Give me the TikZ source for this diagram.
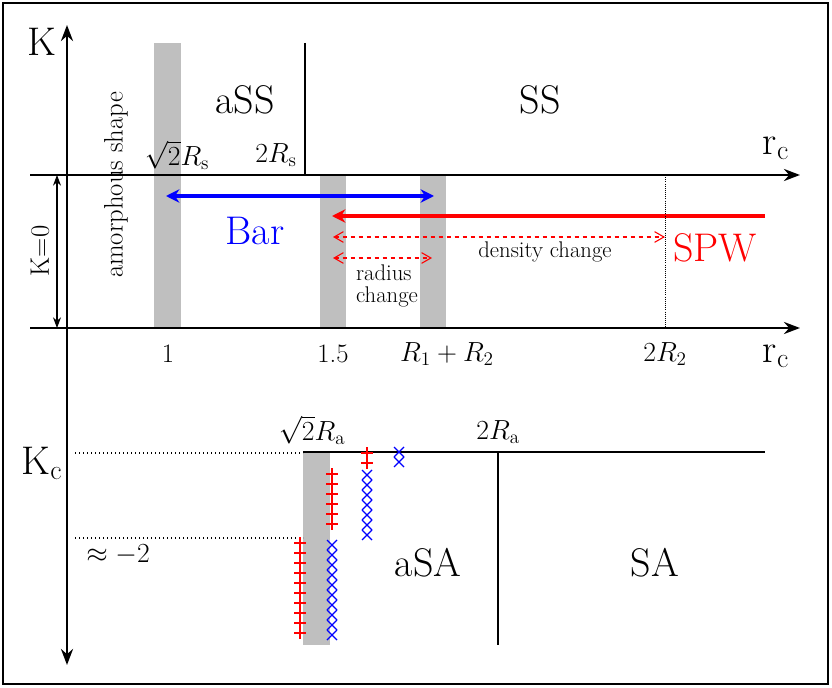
\documentclass[tikz,border=0pt]{standalone}
\usetikzlibrary{arrows.meta, positioning}
\begin{document}
\begin{tikzpicture}[x=0.75pt,y=-0.75pt,
    axis/.style={line width=2.2pt, -{Stealth[length=12pt,width=9pt]}},
    band/.style={fill=black!25, draw=none},
    big/.style={font=\fontsize{30}{32}\selectfont},
    lab/.style={font=\fontsize{20}{22}\selectfont},
    small/.style={font=\fontsize{17}{16}\selectfont, align=left},
    pm/.style={red, line width=0.9pt},
    xm/.style={blue, line width=0.9pt}]
  \draw[line width=0.8pt] (3,3) rectangle (828,684);
  \useasboundingbox (0,0) rectangle (832,688);
  % grey regions
  \fill[band] (154,43) rectangle (181,328);
  \fill[band] (320,175) rectangle (346,328);
  \fill[band] (420,175) rectangle (446,328);
  \fill[band] (303,452) rectangle (330,645);
  % axes
  \coordinate (top) at (67,25);
  \coordinate (bot) at (67,665);
  \draw[axis, {Stealth[length=12pt,width=9pt]}-{Stealth[length=12pt,width=9pt]}] (top) -- (bot);
  \coordinate (a1) at (30,175);
  \coordinate (a1e) at (800,175);
  \coordinate (a2) at (30,328);
  \coordinate (a2e) at (800,328);
  \draw[axis] (a1) -- (a1e);
  \draw[axis] (a2) -- (a2e);
  \node[big] (K) at (42,42) {K};
  \node[big] (rc1) at (776,148) {r$_\mathrm{c}$};
  \node[big] (rc2) at (776,356) {r$_\mathrm{c}$};
  \draw[{Stealth[length=8pt]}-{Stealth[length=8pt]}, line width=0.8pt] (57,175) -- (57,328);
  \node[lab, rotate=90] (k0) at (40,251) {K=0};
  % upper region
  \draw[line width=1pt] (305,43) -- (305,175);
  \node[big] (aSS) at (245,100) {aSS};
  \node[big] (SS) at (540,100) {SS};
  \node[lab] (rs1) at (177,155) {$\sqrt{2}R_\mathrm{s}$};
  \node[lab] (rs2) at (276,155) {$2R_\mathrm{s}$};
  \node[lab, rotate=90] (amo) at (116,185) {amorphous shape};
  \coordinate (b1) at (166,196);
  \coordinate (b2) at (434,196);
  \draw[blue, line width=2.5pt, {Stealth[length=10pt,width=10pt]}-{Stealth[length=10pt,width=10pt]}] (b1) -- (b2);
  \node[big, blue] (bar) at (255,231) {Bar};
  \coordinate (s1) at (765,216);
  \coordinate (s2) at (332,216);
  \draw[red, line width=2.5pt, -{Stealth[length=10pt,width=10pt]}] (s1) -- (s2);
  \node[big, red] (spw) at (715,248) {SPW};
  \draw[red, dashed, line width=0.8pt, {Straight Barb[length=7pt,width=8pt]}-{Straight Barb[length=7pt,width=8pt]}] (333,237) -- (665,237);
  \draw[red, dashed, line width=0.8pt, {Straight Barb[length=7pt,width=8pt]}-{Straight Barb[length=7pt,width=8pt]}] (333,258) -- (432,258);
  \node[small] (den) at (545,252) {density change};
  \node[small, inner sep=0pt] (rad) at (387,286) {radius\\change};
  \draw[densely dotted, line width=0.6pt] (665,175) -- (665,328);
  \node[lab] (t1) at (168,354) {1};
  \node[lab] (t2) at (333,354) {1.5};
  \node[lab] (t3) at (447,354) {$R_1+R_2$};
  \node[lab] (t4) at (665,354) {$2R_2$};
  % lower region
  \node[big] (Kc) at (42,463) {K$_\mathrm{c}$};
  \draw[dotted, line width=1pt] (75,453) -- (303,453);
  \draw[dotted, line width=1pt] (75,538) -- (303,538);
  \draw[line width=1pt] (303,452) -- (765,452);
  \draw[line width=1pt] (498,452) -- (498,645);
  \node[lab] (m2) at (118,555) {$\approx -2$};
  \node[lab] (ra1) at (312,430) {$\sqrt{2}R_\mathrm{a}$};
  \node[lab] (ra2) at (498,432) {$2R_\mathrm{a}$};
  \node[big] (aSA) at (428,563) {aSA};
  \node[big] (SA) at (655,563) {SA};
  % markers
  \foreach \y in {543,553,...,633} \draw[pm] (300,\y) +(-6,0) -- +(6,0) +(0,-6) -- +(0,6);
  \foreach \y in {474,484,...,524} \draw[pm] (332,\y) +(-6,0) -- +(6,0) +(0,-6) -- +(0,6);
  \foreach \y in {453,463} \draw[pm] (367,\y) +(-6,0) -- +(6,0) +(0,-6) -- +(0,6);
  \foreach \y in {545,555,...,635} \draw[xm] (332,\y) +(-5,-5) -- +(5,5) +(-5,5) -- +(5,-5);
  \foreach \y in {475,485,...,535} \draw[xm] (367,\y) +(-5,-5) -- +(5,5) +(-5,5) -- +(5,-5);
  \foreach \y in {452,462} \draw[xm] (399,\y) +(-5,-5) -- +(5,5) +(-5,5) -- +(5,-5);
\end{tikzpicture}
\end{document}
